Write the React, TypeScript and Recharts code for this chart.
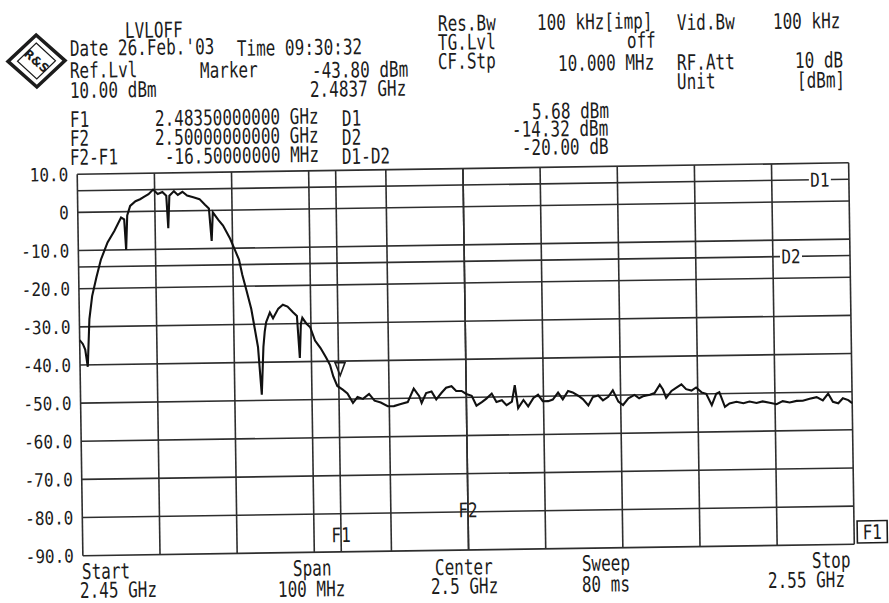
import React from 'react';
import { ComposedChart, Line, XAxis, YAxis, CartesianGrid, ReferenceLine, ReferenceDot } from 'recharts';

// ---- data (frequency in MHz, level in dBm) ----
const freqMHz = [
  2450.0, 2450.4, 2450.7, 2451.0, 2451.3, 2451.7, 2452.3, 2452.9, 2453.8, 2454.7,
  2455.6, 2456.0, 2456.2, 2456.4, 2456.8, 2457.5, 2458.1, 2458.6, 2459.2, 2459.8,
  2460.4, 2461.0, 2461.5, 2461.7, 2461.9, 2462.5, 2463.0, 2463.6, 2464.2, 2465.0,
  2465.8, 2466.5, 2467.0, 2467.3, 2467.5, 2468.2, 2468.8, 2469.7, 2470.3, 2470.8,
  2471.2, 2471.7, 2472.3, 2472.7, 2473.1, 2473.5, 2473.8, 2474.0, 2474.2, 2474.7,
  2475.1, 2475.8, 2476.4, 2477.0, 2477.7, 2478.2, 2478.5, 2478.7, 2478.9, 2479.4,
  2479.9, 2480.5, 2481.2, 2481.9, 2482.4, 2482.8, 2483.3, 2484.0, 2484.6, 2485.3,
  2485.9, 2486.6, 2487.4, 2488.1, 2488.9, 2489.8, 2490.6, 2491.5, 2492.4, 2493.2,
  2493.9, 2494.2, 2494.8, 2495.5, 2496.1, 2496.8, 2497.4, 2498.1, 2498.7, 2499.4,
  2500.0, 2500.7, 2501.3, 2502.0, 2502.6, 2503.3, 2503.9, 2504.6, 2505.2, 2505.9,
  2506.3, 2506.7, 2507.4, 2508.0, 2508.7, 2509.3, 2509.9, 2510.6, 2511.2, 2511.9,
  2512.5, 2513.2, 2513.8, 2514.5, 2515.1, 2515.8, 2516.4, 2517.1, 2517.7, 2518.4,
  2519.0, 2519.7, 2520.3, 2521.0, 2521.8, 2522.4, 2522.9, 2523.8, 2524.4, 2525.1,
  2525.5, 2525.9, 2526.6, 2527.2, 2527.9, 2528.5, 2529.2, 2529.8, 2530.5, 2531.1,
  2531.8, 2532.4, 2532.8, 2533.5, 2534.1, 2535.0, 2535.9, 2536.7, 2537.6, 2538.4,
  2539.3, 2540.2, 2541.0, 2541.9, 2542.8, 2543.6, 2544.5, 2545.4, 2546.2, 2546.9,
  2547.5, 2548.2, 2548.8, 2549.5, 2550.0,
];
const levelDbm = [
  -33.5, -34.5, -36, -40.5, -28, -22, -17, -12.5, -8, -5,
  -1.5, -2, -10, -1, 1.5, 2.7, 3.2, 3.8, 4.5, 5.68,
  4.5, 5.0, 4, -4.5, 4, 5.2, 4.2, 5, 4, 3.5,
  3, 1.5, 0.5, -8, -0.5, -2.5, -4, -7.5, -10.5, -13,
  -17, -21, -26, -31, -36, -48.5, -36, -32, -29.5, -27,
  -28.5, -26, -25, -25.5, -27, -28, -39, -30, -28.5, -30,
  -31, -34.5, -36.5, -39, -41, -44, -46.5, -47.5, -48.5, -51,
  -49.5, -50, -48.7, -50.5, -51, -52, -52, -51.5, -51, -47.5,
  -49.5, -51.3, -48.7, -48.3, -50.4, -48.7, -47.4, -47, -48.3, -48.3,
  -49.1, -49.6, -52.2, -51.3, -50.4, -49.1, -51.3, -50.9, -52.2, -51.3,
  -47, -53, -50.9, -52.6, -50.4, -49.6, -51.3, -51.3, -50.9, -49.1,
  -50.9, -48.7, -49.1, -50, -50.9, -52.6, -50.4, -50, -51.3, -50.4,
  -48.7, -51.7, -52.6, -50.9, -50, -50.9, -50.4, -50, -49.6, -47.4,
  -48.7, -50.9, -49.1, -48.3, -47.4, -48.7, -49.1, -48.3, -49.6, -50,
  -53, -50, -49.6, -53.5, -52.6, -52.2, -52.6, -52.2, -52.6, -52.2,
  -52.6, -53, -52.2, -52.6, -52.2, -52.2, -51.7, -51.3, -52.2, -50.4,
  -52.6, -53, -51.7, -52.2, -53,
];
const yTicks = [10, 0, -10, -20, -30, -40, -50, -60, -70, -80, -90];
const xTicks = [2450, 2460, 2470, 2480, 2490, 2500, 2510, 2520, 2530, 2540, 2550];
const d1Level = 5.68;
const d2Level = -14.32;
const f1Freq = 2483.5;
const f2Freq = 2500;
const markerFreq = 2483.7;
const markerLevel = -43.8;

const data = freqMHz.map((f, i) => ({ f, level: levelDbm[i] }));

// ---- styling / layout ----
const INK = '#1c1c1c';
const GRID = '#2e2e2e';
const FONT = 'DejaVu Sans Mono, Liberation Mono, monospace';
const TH = (0.85 * Math.PI) / 180;
const CX = 466;
const CY = 359;
const at = (X: number, Y: number) => {
  const dx = X - CX;
  const dy = Y - CY;
  return [CX + dx * Math.cos(TH) - dy * Math.sin(TH), CY + dx * Math.sin(TH) + dy * Math.cos(TH)];
};

const Txt = ({ x, y, t, sy = 1.35, anchor = 'start' }: { x: number; y: number; t: string; sy?: number; anchor?: string }) => {
  const [ux, uy] = at(x, y);
  return (
    <text
      transform={`translate(${ux.toFixed(1)},${uy.toFixed(1)}) scale(1,${sy})`}
      fontFamily={FONT}
      fontSize={16}
      fill={INK}
      textAnchor={anchor as any}
    >
      {t}
    </text>
  );
};

const YTick = (props: any) => {
  const { x, y, payload } = props;
  const v = payload.value as number;
  const label = v === 0 ? '0' : v.toFixed(1);
  return (
    <text
      transform={`translate(${x},${y}) scale(1,1.15)`}
      textAnchor="end"
      dy="0.36em"
      fontFamily={FONT}
      fontSize={16}
      fill={INK}
    >
      {label}
    </text>
  );
};

const hLabel = (text: string, fromRight: number) => (p: any) => {
  const vb = p.viewBox || {};
  const cx = vb.x + vb.width - fromRight;
  const cy = vb.y;
  return (
    <g>
      <rect x={cx - 11} y={cy - 9} width={22} height={18} fill="#fff" />
      <text
        transform={`translate(${cx},${cy}) scale(1,1.2)`}
        textAnchor="middle"
        dy="0.36em"
        fontFamily={FONT}
        fontSize={16}
        fill={INK}
      >
        {text}
      </text>
    </g>
  );
};

const vLabel = (text: string, fromBottom: number) => (p: any) => {
  const vb = p.viewBox || {};
  const cx = vb.x;
  const cy = vb.y + vb.height - fromBottom;
  return (
    <text
      transform={`translate(${cx},${cy}) scale(1,1.25)`}
      textAnchor="middle"
      dy="0.36em"
      fontFamily={FONT}
      fontSize={16}
      fill={INK}
    >
      {text}
    </text>
  );
};

const MarkerShape = (p: any) => {
  const { cx, cy } = p;
  return (
    <g>
      <path d={`M${cx - 5},${cy - 13} L${cx + 5},${cy - 13} L${cx},${cy} Z`} fill="none" stroke={INK} strokeWidth={1.6} />
    </g>
  );
};

const Logo = () => {
  const [cx, cy] = at(36.5, 61);
  return (
    <g>
      <polygon
        points={`${cx},${cy - 26} ${cx + 28.5},${cy} ${cx},${cy + 26} ${cx - 28.5},${cy}`}
        fill="#fff"
        stroke={INK}
        strokeWidth={3.5}
      />
      <polygon
        points={`${cx},${cy - 18} ${cx + 19},${cy} ${cx},${cy + 18} ${cx - 19},${cy}`}
        fill="none"
        stroke={INK}
        strokeWidth={1.2}
      />
      <text
        transform={`translate(${cx},${cy}) rotate(42)`}
        textAnchor="middle"
        dy="0.35em"
        fontFamily="DejaVu Sans, sans-serif"
        fontWeight="bold"
        fontSize={12}
        fill={INK}
      >
        R&amp;S
      </text>
    </g>
  );
};

export default function App() {
  const [bx, by] = at(857, 515);
  return (
    <div
      style={{
        position: 'absolute',
        left: 0,
        top: 0,
        width: 889,
        height: 603,
        background: '#fff',
        transform: 'rotate(-0.85deg)',
        transformOrigin: `${CX}px ${CY}px`,
      }}
    >
      <div style={{ position: 'absolute', left: 0, top: 0 }}>
        <ComposedChart width={889} height={603} data={data} margin={{ top: 168.5, right: 37.5, bottom: 53, left: 20 }}>
          <CartesianGrid stroke={GRID} strokeWidth={1.6} vertical={false} />
          <XAxis
            dataKey="f"
            type="number"
            domain={[2450, 2550]}
            ticks={xTicks}
            tick={false}
            axisLine={false}
            tickLine={false}
            height={0}
            allowDataOverflow
          />
          <YAxis
            type="number"
            domain={[-90, 10]}
            ticks={yTicks}
            width={60}
            axisLine={false}
            tickLine={false}
            tickSize={0}
            tickMargin={9}
            tick={<YTick />}
            allowDataOverflow
          />
          {xTicks.map((v) => (
            <ReferenceLine key={v} x={v} stroke={GRID} strokeWidth={1.6} />
          ))}
          <ReferenceLine y={d1Level} stroke={GRID} strokeWidth={1.6} label={hLabel('D1', 29)} />
          <ReferenceLine y={d2Level} stroke={GRID} strokeWidth={1.6} label={hLabel('D2', 59)} />
          <ReferenceLine x={f1Freq} stroke={GRID} strokeWidth={1.6} label={vLabel('F1', 17)} />
          <ReferenceLine x={f2Freq} stroke={GRID} strokeWidth={1.6} label={vLabel('F2', 40)} />
          <Line
            dataKey="level"
            type="linear"
            stroke="#111"
            strokeWidth={2.1}
            dot={false}
            isAnimationActive={false}
          />
          <ReferenceDot x={markerFreq} y={markerLevel} r={4} shape={<MarkerShape />} />
        </ComposedChart>
      </div>
      <svg width={889} height={603} style={{ position: 'absolute', left: 0, top: 0, pointerEvents: 'none' }}>
        <Logo />
        <Txt x={125} y={38} t="LVLOFF" />
        <Txt x={70} y={56} t="Date 26.Feb.'03" />
        <Txt x={237} y={56} t="Time 09:30:32" />
        <Txt x={70} y={78} t="Ref.Lvl" />
        <Txt x={200} y={78} t="Marker" />
        <Txt x={312} y={78} t="-43.80 dBm" />
        <Txt x={70} y={98} t="10.00 dBm" />
        <Txt x={310} y={97} t="2.4837 GHz" />
        <Txt x={70} y={127} t="F1" />
        <Txt x={155} y={126} t="2.48350000000 GHz" />
        <Txt x={342} y={126} t="D1" />
        <Txt x={70} y={146} t="F2" />
        <Txt x={155} y={145} t="2.50000000000 GHz" />
        <Txt x={342} y={145} t="D2" />
        <Txt x={70} y={165} t="F2-F1" />
        <Txt x={165} y={164} t="-16.50000000 MHz" />
        <Txt x={342} y={164} t="D1-D2" />

        <Txt x={438} y={31} t="Res.Bw" />
        <Txt x={537} y={30} t="100 kHz[imp]" />
        <Txt x={677} y={30} t="Vid.Bw" />
        <Txt x={773} y={29} t="100 kHz" />
        <Txt x={438} y={50} t="TG.Lvl" />
        <Txt x={627} y={48} t="off" />
        <Txt x={438} y={69} t="CF.Stp" />
        <Txt x={558} y={71} t="10.000 MHz" />
        <Txt x={677} y={70} t="RF.Att" />
        <Txt x={795} y={68} t="10 dB" />
        <Txt x={677} y={89} t="Unit" />
        <Txt x={797} y={88} t="[dBm]" />
        <Txt x={532} y={119} t="5.68 dBm" />
        <Txt x={512} y={137} t="-14.32 dBm" />
        <Txt x={522} y={155} t="-20.00 dB" />

        <Txt x={82} y={579} t="Start" />
        <Txt x={80} y={598} t="2.45 GHz" />
        <Txt x={293} y={576} t="Span" />
        <Txt x={278} y={597} t="100 MHz" />
        <Txt x={435} y={575} t="Center" />
        <Txt x={431} y={594} t="2.5 GHz" />
        <Txt x={582} y={571} t="Sweep" />
        <Txt x={582} y={592} t="80 ms" />
        <Txt x={812} y={568} t="Stop" />
        <Txt x={768} y={588} t="2.55 GHz" />

        <rect x={bx} y={by + 6} width={30} height={22} fill="#fff" stroke={INK} strokeWidth={1.6} />
        <text
          transform={`translate(${bx + 15},${by + 17}) scale(1,1.25)`}
          textAnchor="middle"
          dy="0.36em"
          fontFamily={FONT}
          fontSize={16}
          fill={INK}
        >
          F1
        </text>
      </svg>
    </div>
  );
}
